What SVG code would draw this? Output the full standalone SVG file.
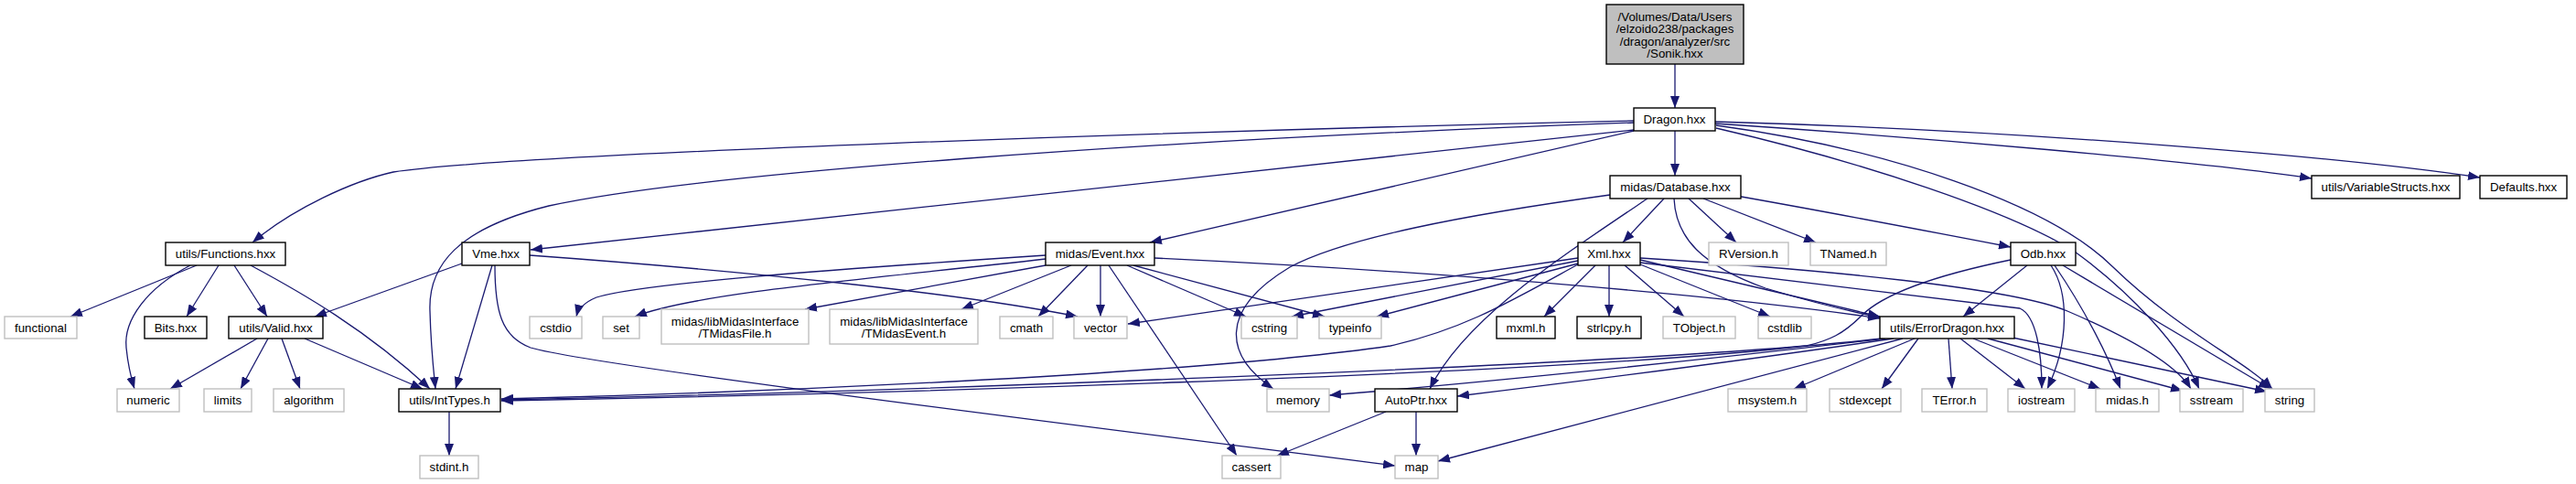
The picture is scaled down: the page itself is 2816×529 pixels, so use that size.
<svg xmlns="http://www.w3.org/2000/svg" width="2816" height="529" viewBox="0 0 2816 529">
<style>
.n rect{fill:#fff;stroke:#000;stroke-width:1.4}
.s rect{fill:#fff;stroke:#bfbfbf;stroke-width:1.4}
.r rect{fill:#bfbfbf;stroke:#000;stroke-width:1.4}
text{font-family:"Liberation Sans",Arial,Helvetica,sans-serif;font-size:13.3px;fill:#000;text-anchor:middle}
#edges path{fill:none;stroke:#191970;stroke-width:1.3;marker-end:url(#ah)}
</style>
<defs>
<marker id="ah" markerUnits="userSpaceOnUse" markerWidth="13" markerHeight="10" refX="13" refY="5" orient="auto"><path d="M0,0 L13,5 L0,10 z" fill="#191970"/></marker>
</defs>
<rect width="2816" height="529" fill="#fff"/>
<g id="edges">
<path d="M1831,70 L1831,118"/>
<path d="M1831,143 L1831,192"/>
<path d="M1786,132 C1300,143 560,168 430,188 C385,198 320,228 276,265"/>
<path d="M1786,134 C1250,153 760,190 600,225 C500,250 468,290 470,340 C471,380 474,405 476,425"/>
<path d="M1786,142 L580,273"/>
<path d="M1786,143 L1257,265"/>
<path d="M1875,135 C2100,150 2400,176 2527,195"/>
<path d="M1875,133 C2200,142 2550,170 2711,194"/>
<path d="M1876,137 C2060,162 2240,222 2310,292 C2380,360 2455,395 2484,425"/>
<path d="M1876,140 C2040,178 2200,232 2268,275 C2330,320 2385,380 2404,425"/>
<path d="M1760,213 C1600,235 1470,260 1410,292 C1330,340 1340,390 1392,425"/>
<path d="M1801,217 C1700,285 1600,350 1563,425"/>
<path d="M1819,217 L1774,265"/>
<path d="M1830,217 C1832,260 1860,290 1930,315 C1990,333 2030,342 2056,347"/>
<path d="M1846,217 L1898,265"/>
<path d="M1862,217 L1985,265"/>
<path d="M1898,214 C2000,232 2120,255 2198,270"/>
<path d="M215,290 L77,346"/>
<path d="M208,290 C160,315 135,350 138,380 C140,400 143,412 147,425"/>
<path d="M239,290 L204,346"/>
<path d="M256,290 L292,346"/>
<path d="M274,290 C330,320 400,360 470,425"/>
<path d="M281,370 L186,425"/>
<path d="M293,370 L263,425"/>
<path d="M308,370 L328,425"/>
<path d="M333,370 L462,425"/>
<path d="M505,288 L344,346"/>
<path d="M538,290 L498,425"/>
<path d="M579,279 C800,295 1050,320 1178,346"/>
<path d="M541,290 C541,340 548,368 580,380 C640,398 1100,455 1525,509"/>
<path d="M1143,279 C900,295 700,310 652,325 C640,330 632,338 630,346"/>
<path d="M1143,283 C950,305 760,320 694,346"/>
<path d="M1143,290 L880,338"/>
<path d="M1171,290 L1051,338"/>
<path d="M1189,290 L1135,346"/>
<path d="M1203,290 L1203,346"/>
<path d="M1212,290 L1352,498"/>
<path d="M1232,290 L1362,346"/>
<path d="M1239,290 L1448,346"/>
<path d="M1262,282 C1600,298 1900,325 2055,348"/>
<path d="M1725,282 L1233,354"/>
<path d="M1725,285 L1412,346"/>
<path d="M1725,288 L1505,346"/>
<path d="M1744,290 L1688,346"/>
<path d="M1759,290 L1759,346"/>
<path d="M1776,290 L1841,346"/>
<path d="M1793,289 L1935,346"/>
<path d="M1793,284 L2055,346"/>
<path d="M1725,289 C1650,330 1600,360 1520,378 C1300,410 800,430 548,436"/>
<path d="M1793,287 L2208,337 C2226,345 2232,385 2232,425"/>
<path d="M1793,282 C2000,295 2200,315 2260,340 C2330,370 2380,400 2395,425"/>
<path d="M2216,290 L2146,346"/>
<path d="M2198,284 C2120,300 2060,320 2035,345 C2015,365 2000,372 1975,378 C1700,410 900,432 548,438"/>
<path d="M2242,290 C2262,320 2262,375 2238,425"/>
<path d="M2246,290 C2280,340 2305,390 2318,425"/>
<path d="M2255,290 L2482,425"/>
<path d="M2130,370 L2134,425"/>
<path d="M2143,370 L2214,425"/>
<path d="M2157,370 L2296,425"/>
<path d="M2173,370 L2386,427"/>
<path d="M2200,369 L2478,428"/>
<path d="M2097,370 L2057,425"/>
<path d="M2093,370 L1961,425"/>
<path d="M2080,370 L1572,504"/>
<path d="M2070,370 C1900,395 1700,420 1593,433"/>
<path d="M2061,370 C1850,395 1600,420 1453,432"/>
<path d="M2057,370 C1800,400 900,430 548,437"/>
<path d="M1515,450 L1396,498"/>
<path d="M1548,450 L1548,498"/>
<path d="M491,450 L491,498"/>
</g>
<g id="sonik" class="r"><rect x="1756" y="5" width="150" height="65"/><text x="1831" y="23">/Volumes/Data/Users</text><text x="1831" y="36.4">/elzoido238/packages</text><text x="1831" y="49.7">/dragon/analyzer/src</text><text x="1831" y="63">/Sonik.hxx</text></g>
<g id="dragon" class="n"><rect x="1786" y="118" width="89" height="25"/><text x="1830.5" y="135">Dragon.hxx</text></g>
<g id="database" class="n"><rect x="1760" y="192" width="143" height="25"/><text x="1831.5" y="209">midas/Database.hxx</text></g>
<g id="variablestructs" class="n"><rect x="2527" y="192" width="162" height="25"/><text x="2608" y="209">utils/VariableStructs.hxx</text></g>
<g id="defaults" class="n"><rect x="2711" y="192" width="95" height="25"/><text x="2758.5" y="209">Defaults.hxx</text></g>
<g id="functions" class="n"><rect x="181" y="265" width="131" height="25"/><text x="246.5" y="282">utils/Functions.hxx</text></g>
<g id="vme" class="n"><rect x="505" y="265" width="74" height="25"/><text x="542" y="282">Vme.hxx</text></g>
<g id="event" class="n"><rect x="1143" y="265" width="119" height="25"/><text x="1202.5" y="282">midas/Event.hxx</text></g>
<g id="xml" class="n"><rect x="1725" y="265" width="68" height="25"/><text x="1759" y="282">Xml.hxx</text></g>
<g id="rversion" class="s"><rect x="1868" y="265" width="87" height="25"/><text x="1911.5" y="282">RVersion.h</text></g>
<g id="tnamed" class="s"><rect x="1979" y="265" width="83" height="25"/><text x="2020.5" y="282">TNamed.h</text></g>
<g id="odb" class="n"><rect x="2198" y="265" width="71" height="25"/><text x="2233.5" y="282">Odb.hxx</text></g>
<g id="functional" class="s"><rect x="5" y="346" width="79" height="24"/><text x="44.5" y="363">functional</text></g>
<g id="bits" class="n"><rect x="158" y="346" width="68" height="24"/><text x="192" y="363">Bits.hxx</text></g>
<g id="valid" class="n"><rect x="250" y="346" width="103" height="24"/><text x="301.5" y="363">utils/Valid.hxx</text></g>
<g id="cstdio" class="s"><rect x="579" y="346" width="57" height="24"/><text x="607.5" y="363">cstdio</text></g>
<g id="set" class="s"><rect x="659" y="346" width="40" height="24"/><text x="679" y="363">set</text></g>
<g id="tmidasfile" class="s"><rect x="723" y="338" width="161" height="38"/><text x="803.5" y="355.7">midas/libMidasInterface</text><text x="803.5" y="369">/TMidasFile.h</text></g>
<g id="tmidasevent" class="s"><rect x="907" y="338" width="162" height="38"/><text x="988" y="355.7">midas/libMidasInterface</text><text x="988" y="369">/TMidasEvent.h</text></g>
<g id="cmath" class="s"><rect x="1093" y="346" width="58" height="24"/><text x="1122" y="363">cmath</text></g>
<g id="vector" class="s"><rect x="1174" y="346" width="58" height="24"/><text x="1203" y="363">vector</text></g>
<g id="cstring" class="s"><rect x="1357" y="346" width="61" height="24"/><text x="1387.5" y="363">cstring</text></g>
<g id="typeinfo" class="s"><rect x="1442" y="346" width="68" height="24"/><text x="1476" y="363">typeinfo</text></g>
<g id="mxml" class="n"><rect x="1636" y="346" width="64" height="24"/><text x="1668" y="363">mxml.h</text></g>
<g id="strlcpy" class="n"><rect x="1724" y="346" width="70" height="24"/><text x="1759" y="363">strlcpy.h</text></g>
<g id="tobject" class="s"><rect x="1818" y="346" width="79" height="24"/><text x="1857.5" y="363">TObject.h</text></g>
<g id="cstdlib" class="s"><rect x="1922" y="346" width="58" height="24"/><text x="1951" y="363">cstdlib</text></g>
<g id="errordragon" class="n"><rect x="2055" y="346" width="147" height="24"/><text x="2128.5" y="363">utils/ErrorDragon.hxx</text></g>
<g id="numeric" class="s"><rect x="128" y="425" width="68" height="25"/><text x="162" y="442">numeric</text></g>
<g id="limits" class="s"><rect x="223" y="425" width="52" height="25"/><text x="249" y="442">limits</text></g>
<g id="algorithm" class="s"><rect x="299" y="425" width="77" height="25"/><text x="337.5" y="442">algorithm</text></g>
<g id="inttypes" class="n"><rect x="436" y="425" width="111" height="25"/><text x="491.5" y="442">utils/IntTypes.h</text></g>
<g id="memory" class="s"><rect x="1385" y="425" width="68" height="25"/><text x="1419" y="442">memory</text></g>
<g id="autoptr" class="n"><rect x="1503" y="425" width="90" height="25"/><text x="1548" y="442">AutoPtr.hxx</text></g>
<g id="msystem" class="s"><rect x="1889" y="425" width="86" height="25"/><text x="1932" y="442">msystem.h</text></g>
<g id="stdexcept" class="s"><rect x="2000" y="425" width="78" height="25"/><text x="2039" y="442">stdexcept</text></g>
<g id="terror" class="s"><rect x="2101" y="425" width="71" height="25"/><text x="2136.5" y="442">TError.h</text></g>
<g id="iostream" class="s"><rect x="2195" y="425" width="73" height="25"/><text x="2231.5" y="442">iostream</text></g>
<g id="midash" class="s"><rect x="2291" y="425" width="69" height="25"/><text x="2325.5" y="442">midas.h</text></g>
<g id="sstream" class="s"><rect x="2383" y="425" width="69" height="25"/><text x="2417.5" y="442">sstream</text></g>
<g id="string" class="s"><rect x="2476" y="425" width="54" height="25"/><text x="2503" y="442">string</text></g>
<g id="stdint" class="s"><rect x="459" y="498" width="64" height="25"/><text x="491" y="515">stdint.h</text></g>
<g id="cassert" class="s"><rect x="1336" y="498" width="64" height="25"/><text x="1368" y="515">cassert</text></g>
<g id="map" class="s"><rect x="1525" y="498" width="47" height="25"/><text x="1548.5" y="515">map</text></g>
</svg>
